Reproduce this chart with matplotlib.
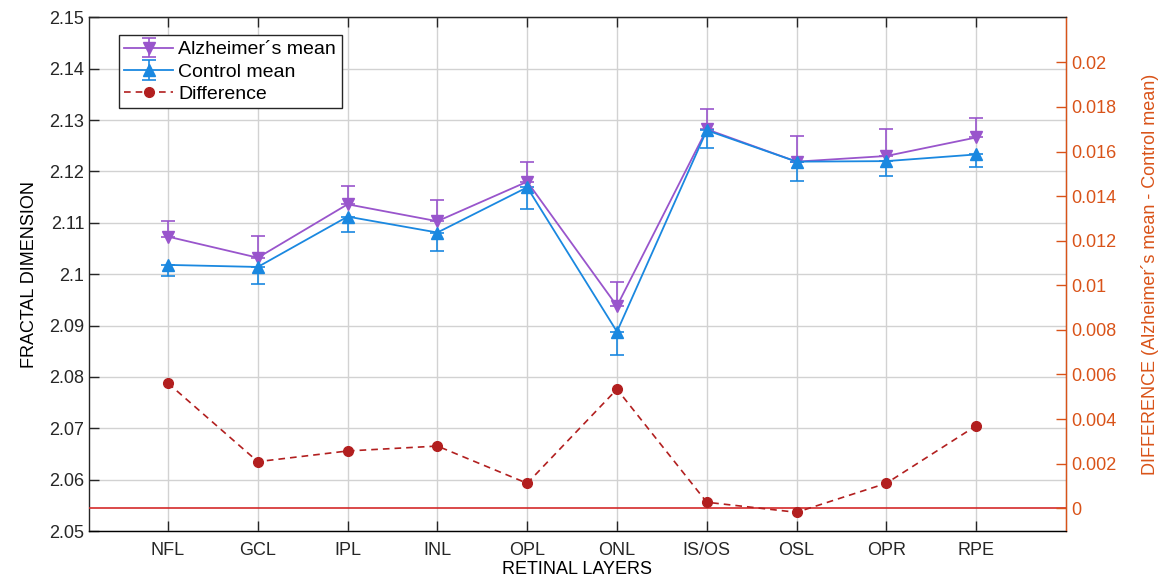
import matplotlib
matplotlib.use('Agg')
import matplotlib.pyplot as plt
import numpy as np

# data
layers = ['NFL', 'GCL', 'IPL', 'INL', 'OPL', 'ONL', 'IS/OS', 'OSL', 'OPR', 'RPE']
alz_mean = [2.1073, 2.1032, 2.1136, 2.1103, 2.1180, 2.0938, 2.1282, 2.1219, 2.1230, 2.1266]
alz_err = [0.0030, 0.0042, 0.0035, 0.0042, 0.0038, 0.0046, 0.0039, 0.0049, 0.0053, 0.0038]
ctl_mean = [2.1018, 2.1014, 2.1112, 2.1081, 2.1169, 2.0888, 2.1280, 2.1219, 2.1220, 2.1233]
ctl_err = [0.0021, 0.0033, 0.0030, 0.0036, 0.0042, 0.0046, 0.0035, 0.0038, 0.0028, 0.0024]
diff = [0.00561, 0.00209, 0.00257, 0.00279, 0.00112, 0.00534, 0.00027, -0.00018, 0.00112, 0.0037]

plt.rcParams['font.family'] = ['Liberation Sans', 'DejaVu Sans']
plt.rcParams['font.size'] = 13

purple = '#9955cc'
blue = '#1a88e0'
dred = '#b21f1f'
orange = '#d95319'

x = np.arange(1, len(layers) + 1)
zeros = np.zeros(len(x))

fig = plt.figure(figsize=(11.59, 5.82), dpi=100)
ax = fig.add_axes([0.0768, 0.0876, 0.8429, 0.8827])

# purple: error only upward, blue: only downward
h1 = ax.errorbar(x, alz_mean, yerr=[zeros, alz_err], color=purple, marker='v', ms=9,
                 lw=1.3, capsize=5, elinewidth=1.2, capthick=1.2, label='Alzheimer\u00b4s mean', zorder=3)
h2 = ax.errorbar(x, ctl_mean, yerr=[ctl_err, zeros], color=blue, marker='^', ms=9,
                 lw=1.3, capsize=5, elinewidth=1.2, capthick=1.2, label='Control mean', zorder=3)

ax.set_xlim(0.12, 11)
ax.set_ylim(2.05, 2.15)
ax.set_yticks(np.arange(2.05, 2.1501, 0.01))
ax.set_yticklabels(['2.05', '2.06', '2.07', '2.08', '2.09', '2.1', '2.11', '2.12', '2.13', '2.14', '2.15'])
ax.set_xticks(x)
ax.set_xticklabels(layers)
ax.grid(True, color='#d2d2d2', lw=1.0)
ax.set_axisbelow(True)
ax.tick_params(direction='in', length=7, width=1, colors='#262626', top=True, right=False)
ax.tick_params(axis='x', pad=8)
for s in ['left', 'bottom', 'top']:
    ax.spines[s].set_color('#262626')
    ax.spines[s].set_linewidth(1.0)
ax.set_xlabel('RETINAL LAYERS', labelpad=1)
ax.set_ylabel('FRACTAL DIMENSION', labelpad=8)

# right axis with difference
ax2 = ax.twinx()
ax2.set_ylim(-0.00102, 0.02202)
ax2.set_yticks(np.arange(0, 0.0201, 0.002))
ax2.set_yticklabels(['0', '0.002', '0.004', '0.006', '0.008', '0.01', '0.012', '0.014', '0.016', '0.018', '0.02'])
ax2.axhline(0, color='#d42a2a', lw=1.2, zorder=1)
h3, = ax2.plot(x, diff, color=dred, ls='--', dashes=(4, 3), lw=1.2, marker='o', ms=7, label='Difference')
ax2.tick_params(direction='in', length=7, width=1, colors=orange)
ax2.spines['right'].set_color(orange)
ax2.spines['right'].set_linewidth(1.0)
ax2.spines['left'].set_visible(False)
ax2.spines['top'].set_color('#262626')
ax2.set_ylabel('DIFFERENCE (Alzheimer\u00b4s mean - Control mean)', color=orange, labelpad=18)

leg = ax2.legend(handles=[h1, h2, h3], loc='upper left', bbox_to_anchor=(0.0307, 0.965),
                 borderaxespad=0, fancybox=False, edgecolor='#262626', framealpha=1,
                 handlelength=2.5, borderpad=0.28, labelspacing=0.24, handletextpad=0.27,
                 fontsize=14)
leg.get_frame().set_linewidth(1.0)

fig.savefig('out.png', dpi=100)
